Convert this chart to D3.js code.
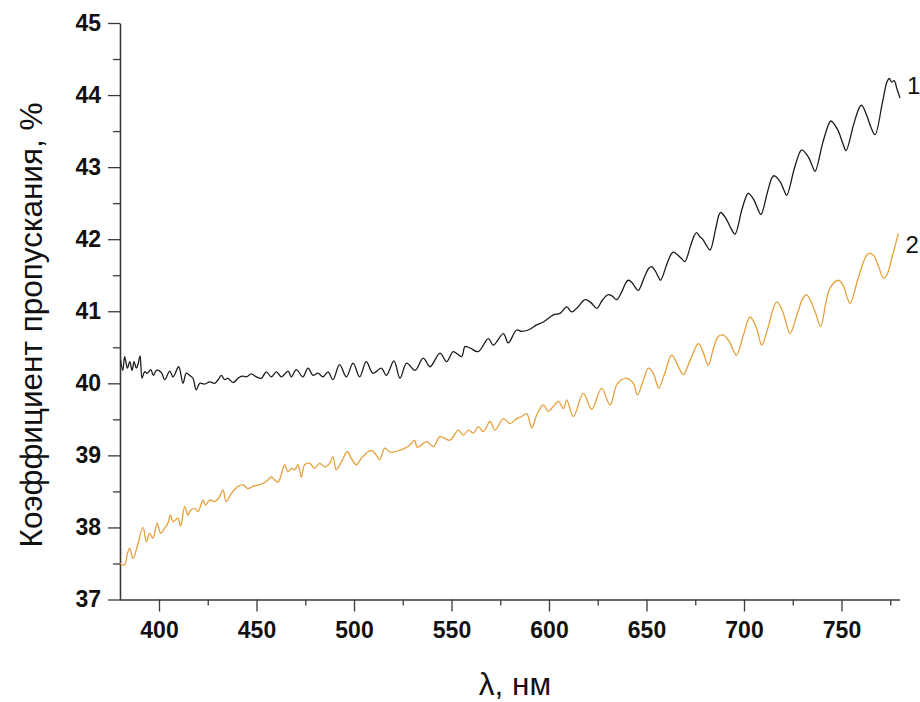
<!DOCTYPE html>
<html>
<head>
<meta charset="utf-8">
<script src="https://cdn.jsdelivr.net/npm/d3@7"></script>
<style>
  html, body { margin: 0; padding: 0; background: #fff; }
  svg { display: block; }
  .tick text { font-family: "Liberation Sans", Arial, sans-serif; font-weight: bold; fill: #111; }
</style>
</head>
<body>
<svg id="chart" width="920" height="702"></svg>
<script>
// Transmission spectrum, sample 1 (wavelength in nm, transmission in %)
const wavelength1 = [
  380.3, 381.4, 382.4, 383.8, 385.0, 386.2, 387.2, 388.4, 389.2, 390.3,
  391.3, 392.6, 394.0, 395.8, 397.1, 398.7, 401.2, 402.9, 405.5, 407.2,
  410.1, 412.3, 414.0, 415.7, 417.4, 419.1, 420.9, 423.4, 426.0, 428.6,
  430.3, 432.0, 433.7, 435.4, 438.0, 440.5, 442.6, 444.8, 447.3, 449.9,
  452.5, 455.0, 457.6, 460.2, 462.7, 466.2, 467.9, 470.4, 473.8, 476.4,
  479.0, 481.5, 484.1, 486.7, 489.2, 492.6, 496.1, 499.5, 502.9, 506.3,
  509.7, 514.0, 516.6, 520.5, 523.6, 527.0, 531.3, 535.5, 539.0, 544.1,
  547.5, 550.9, 555.2, 556.9, 559.5, 563.7, 568.9, 571.4, 576.6, 579.1,
  583.4, 586.0, 589.4, 593.7, 597.1, 602.2, 605.6, 609.1, 611.6, 614.5,
  618.5, 621.5, 624.5, 627.5, 630.4, 632.5, 634.7, 637.5, 639.5, 640.7,
  642.5, 644.3, 645.8, 649.0, 651.3, 652.6, 654.5, 656.0, 657.2, 660.5,
  662.6, 663.7, 666.0, 668.3, 669.7, 672.5, 674.5, 675.7, 677.5, 678.8,
  680.8, 682.6, 685.5, 687.2, 688.0, 690.5, 693.3, 695.4, 698.8, 701.2,
  702.2, 705.0, 707.2, 708.7, 712.0, 714.3, 715.4, 718.5, 720.5, 721.9,
  725.8, 728.5, 729.6, 732.8, 735.0, 736.4, 740.5, 743.5, 744.6, 748.0,
  750.8, 752.3, 756.3, 759.2, 760.3, 762.9, 765.0, 767.2, 771.0, 773.3,
  774.5, 775.8, 777.0, 778.5, 780.0
];
const transmission1 = [
  40.32, 40.18, 40.37, 40.21, 40.30, 40.18, 40.30, 40.21, 40.26, 40.38,
  40.07, 40.16, 40.14, 40.19, 40.11, 40.18, 40.15, 40.05, 40.17, 40.09,
  40.23, 40.00, 40.14, 40.11, 40.07, 39.91, 40.00, 39.99, 40.02, 40.00,
  40.05, 40.11, 40.05, 40.07, 40.01, 40.07, 40.10, 40.09, 40.13, 40.09,
  40.07, 40.16, 40.09, 40.16, 40.09, 40.17, 40.09, 40.19, 40.09, 40.21,
  40.11, 40.14, 40.09, 40.16, 40.05, 40.26, 40.09, 40.28, 40.09, 40.30,
  40.14, 40.21, 40.11, 40.31, 40.07, 40.28, 40.18, 40.35, 40.23, 40.42,
  40.30, 40.44, 40.37, 40.51, 40.49, 40.44, 40.62, 40.53, 40.69, 40.56,
  40.74, 40.72, 40.74, 40.81, 40.85, 40.95, 40.97, 41.06, 40.99, 41.05,
  41.16, 41.12, 41.04, 41.16, 41.23, 41.21, 41.16, 41.28, 41.40, 41.43,
  41.40, 41.33, 41.29, 41.48, 41.60, 41.62, 41.56, 41.48, 41.43, 41.66,
  41.79, 41.82, 41.78, 41.72, 41.69, 41.90, 42.05, 42.09, 42.03, 42.00,
  41.91, 41.85, 42.15, 42.34, 42.37, 42.30, 42.15, 42.07, 42.40, 42.60,
  42.64, 42.55, 42.41, 42.34, 42.65, 42.85, 42.88, 42.80, 42.68, 42.61,
  42.98, 43.20, 43.24, 43.15, 43.02, 42.94, 43.35, 43.60, 43.64, 43.52,
  43.32, 43.23, 43.60, 43.83, 43.86, 43.72, 43.56, 43.45, 43.90, 44.18,
  44.23, 44.18, 44.20, 44.08, 43.96
];

// Transmission spectrum, sample 2
const wavelength2 = [
  380.0, 382.4, 383.8, 385.0, 386.7, 388.4, 391.8, 393.5, 395.2, 396.9,
  399.1, 400.8, 402.9, 404.6, 405.9, 407.2, 409.7, 411.1, 413.2, 414.9,
  416.2, 418.3, 420.0, 422.6, 423.8, 426.0, 428.6, 431.1, 432.8, 434.5,
  437.1, 440.5, 443.1, 445.6, 448.2, 450.8, 453.3, 455.9, 457.6, 459.3,
  461.0, 462.7, 464.4, 466.2, 467.9, 469.6, 471.3, 473.0, 474.7, 477.3,
  479.8, 482.4, 485.0, 487.5, 489.2, 490.9, 493.5, 496.6, 498.6, 501.2,
  503.8, 506.3, 508.9, 511.5, 513.2, 515.8, 518.3, 520.9, 523.4, 526.0,
  528.6, 531.1, 532.5, 537.3, 540.7, 544.1, 549.2, 553.5, 556.1, 558.6,
  561.2, 563.8, 566.3, 569.8, 572.3, 576.6, 580.0, 583.4, 586.0, 588.6,
  591.1, 593.7, 597.1, 599.7, 602.2, 604.8, 607.4, 609.1, 612.5, 617.6,
  621.9, 627.0, 631.3, 634.7, 637.3, 639.8, 643.3, 645.3, 648.5, 651.0,
  653.5, 655.0, 656.3, 659.5, 662.9, 665.5, 667.3, 668.9, 672.8, 676.6,
  678.8, 680.3, 681.7, 684.3, 686.8, 689.4, 692.5, 694.5, 696.2, 699.8,
  703.1, 706.5, 709.1, 712.5, 714.8, 716.8, 719.5, 721.8, 723.6, 727.5,
  730.2, 732.1, 736.4, 739.3, 742.0, 744.1, 748.4, 751.0, 752.8, 754.4,
  758.5, 761.8, 763.8, 766.3, 769.0, 771.5, 773.2, 776.2, 779.2
];
const transmission2 = [
  37.50, 37.48, 37.64, 37.71, 37.57, 37.69, 38.00, 37.80, 37.92, 37.85,
  38.06, 37.92, 37.99, 38.06, 38.17, 38.08, 38.13, 38.02, 38.29, 38.17,
  38.24, 38.26, 38.22, 38.38, 38.31, 38.38, 38.36, 38.43, 38.52, 38.36,
  38.47, 38.57, 38.59, 38.54, 38.57, 38.59, 38.61, 38.66, 38.70, 38.66,
  38.63, 38.73, 38.87, 38.77, 38.82, 38.80, 38.87, 38.70, 38.87, 38.89,
  38.82, 38.89, 38.84, 38.89, 38.98, 38.80, 38.91, 39.05, 38.96, 38.87,
  38.96, 39.03, 39.07, 39.00, 38.94, 39.10, 39.05, 39.05, 39.07, 39.10,
  39.14, 39.21, 39.11, 39.19, 39.12, 39.26, 39.21, 39.35, 39.28, 39.35,
  39.31, 39.40, 39.33, 39.47, 39.35, 39.51, 39.44, 39.51, 39.54, 39.58,
  39.38, 39.56, 39.70, 39.61, 39.68, 39.75, 39.65, 39.77, 39.54, 39.86,
  39.64, 39.93, 39.70, 39.98, 40.05, 40.07, 40.00, 39.84, 40.05, 40.21,
  40.14, 40.02, 39.93, 40.15, 40.39, 40.28, 40.18, 40.12, 40.35, 40.55,
  40.45, 40.33, 40.25, 40.48, 40.65, 40.67, 40.58, 40.46, 40.39, 40.68,
  40.92, 40.76, 40.53, 40.79, 41.02, 41.13, 41.02, 40.82, 40.69, 40.98,
  41.18, 41.23, 41.00, 40.79, 41.12, 41.32, 41.43, 41.35, 41.20, 41.11,
  41.45, 41.72, 41.80, 41.78, 41.62, 41.46, 41.50, 41.78, 42.08
];

const seriesNames = ["1", "2"];
const seriesColors = ["#1c1c1c", "#e6a03c"];

const xMajorTicks = [400, 450, 500, 550, 600, 650, 700, 750];
const xMinorTicks = [425, 475, 525, 575, 625, 675, 725, 775];
const yMajorTicks = [37, 38, 39, 40, 41, 42, 43, 44, 45];
const yMinorTicks = [37.5, 38.5, 39.5, 40.5, 41.5, 42.5, 43.5, 44.5];

const xTitle = "λ, нм";
const yTitle = "Коэффициент пропускания, %";

const svg = d3.select("#chart");
const margin = { left: 120, right: 20, top: 23, bottom: 102.5 };
const W = 920, H = 702;

const x = d3.scaleLinear().domain([380, 780]).range([margin.left, W - margin.right]);
const y = d3.scaleLinear().domain([37, 45]).range([H - margin.bottom, margin.top]);

const axisColor = "#3a3a3a";
const tickFont = 23;
const textFont = "Liberation Sans, Arial, sans-serif";

// Minor ticks (unlabelled)
svg.append("g")
  .attr("transform", `translate(0,${y(37)})`)
  .call(d3.axisBottom(x).tickValues(xMinorTicks).tickSize(6).tickSizeOuter(0).tickFormat(""))
  .call(g => g.select(".domain").remove())
  .call(g => g.selectAll("line").attr("stroke", axisColor).attr("stroke-width", 1.3));
svg.append("g")
  .attr("transform", `translate(${x(380)},0)`)
  .call(d3.axisLeft(y).tickValues(yMinorTicks).tickSize(7).tickSizeOuter(0).tickFormat(""))
  .call(g => g.select(".domain").remove())
  .call(g => g.selectAll("line").attr("stroke", axisColor).attr("stroke-width", 1.3));

// Major ticks with labels
const xAxis = svg.append("g")
  .attr("transform", `translate(0,${y(37)})`)
  .call(d3.axisBottom(x).tickValues(xMajorTicks).tickSize(12).tickSizeOuter(0).tickPadding(10).tickFormat(d3.format("d")));
xAxis.select(".domain").attr("stroke", axisColor).attr("stroke-width", 1.6)
  .attr("d", `M${x(380)},0.5H${x(780)}`);
xAxis.selectAll("line").attr("stroke", axisColor).attr("stroke-width", 1.3);
xAxis.selectAll("text").attr("font-size", tickFont);

const yAxis = svg.append("g")
  .attr("transform", `translate(${x(380)},0)`)
  .call(d3.axisLeft(y).tickValues(yMajorTicks).tickSize(12).tickSizeOuter(0).tickPadding(7).tickFormat(d3.format("d")));
yAxis.select(".domain").attr("stroke", axisColor).attr("stroke-width", 1.6);
yAxis.selectAll("line").attr("stroke", axisColor).attr("stroke-width", 1.3);
yAxis.selectAll("text").attr("font-size", tickFont);

// Spectra
const series = [
  { name: seriesNames[0], color: seriesColors[0], pts: wavelength1.map((w, i) => [w, transmission1[i]]) },
  { name: seriesNames[1], color: seriesColors[1], pts: wavelength2.map((w, i) => [w, transmission2[i]]) }
];

const line = d3.line().x(d => x(d[0])).y(d => y(d[1])).curve(d3.curveCatmullRom.alpha(0.5));

svg.append("g").selectAll("path")
  .data(series)
  .join("path")
  .attr("d", d => line(d.pts))
  .attr("fill", "none")
  .attr("stroke", d => d.color)
  .attr("stroke-width", 1.3)
  .attr("stroke-linejoin", "round");

// Curve numbers at the right end of each spectrum
const labelOffsets = [-4, 20];
svg.append("g").selectAll("text")
  .data(series)
  .join("text")
  .attr("x", d => x(d.pts[d.pts.length - 1][0]) + 7)
  .attr("y", (d, i) => y(d.pts[d.pts.length - 1][1]) + labelOffsets[i])
  .attr("font-family", textFont)
  .attr("font-size", 24)
  .attr("fill", "#111")
  .text(d => d.name);

// Axis titles
svg.append("text")
  .attr("x", 515)
  .attr("y", 695)
  .attr("text-anchor", "middle")
  .attr("font-family", textFont)
  .attr("font-size", 31.5)
  .attr("fill", "#111")
  .text(xTitle);

svg.append("text")
  .attr("transform", `translate(42,325) rotate(-90)`)
  .attr("text-anchor", "middle")
  .attr("font-family", textFont)
  .attr("font-size", 31.5)
  .attr("fill", "#111")
  .text(yTitle);
</script>
</body>
</html>
